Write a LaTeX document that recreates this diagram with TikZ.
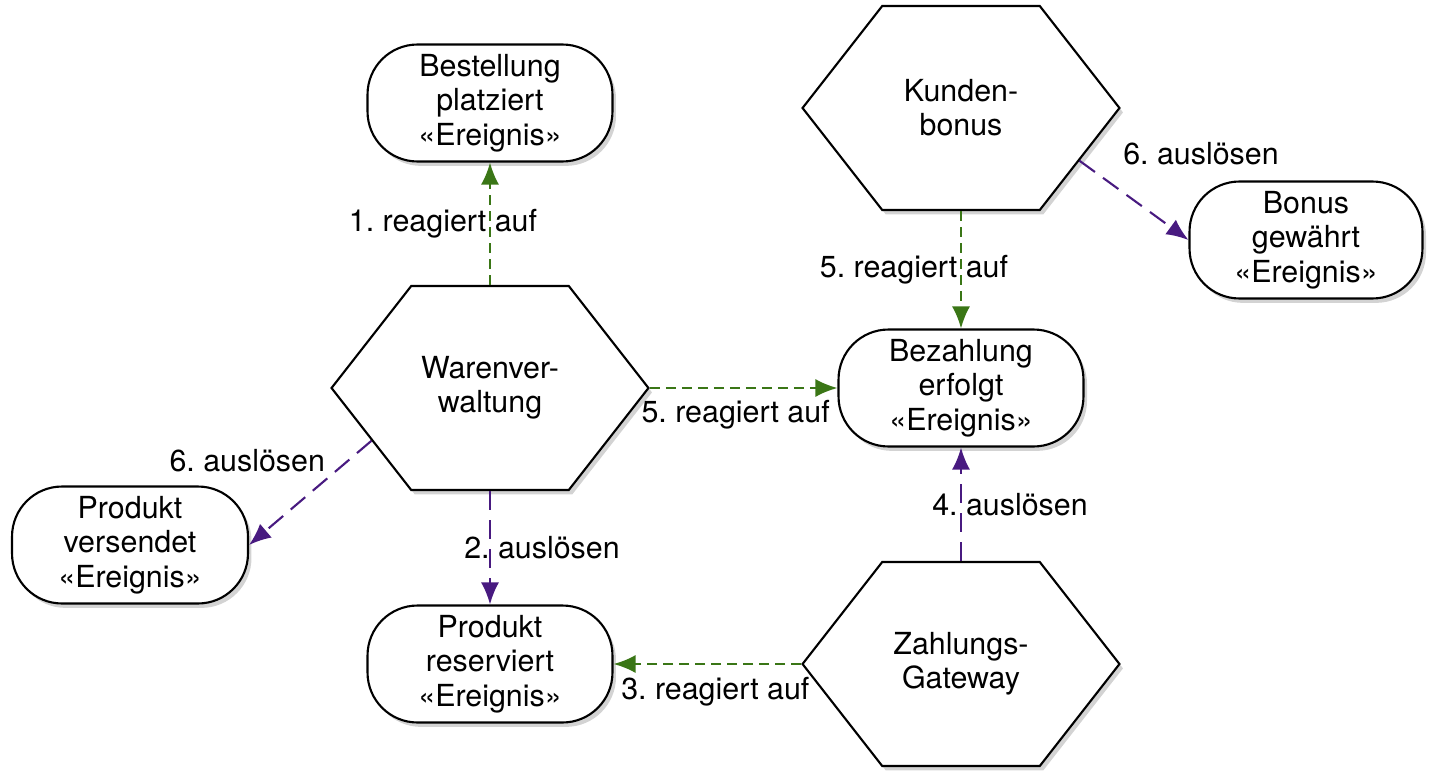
\documentclass[tikz,border=0pt]{standalone}
\usepackage{fontspec}
\setmainfont{TeX Gyre Heros}
\usetikzlibrary{shapes.symbols,shadows,arrows.meta}
\frenchspacing

\definecolor{reactgreen}{RGB}{58,118,22}
\definecolor{firepurple}{RGB}{72,26,128}

\tikzset{
    ereignis/.style = {draw, line width=1.2pt, fill=white, rounded corners=1cm,
        minimum width=4.9cm, minimum height=2.34cm, align=center,
        drop shadow={opacity=0.35, shadow xshift=2pt, shadow yshift=-2.5pt}},
    dienst/.style = {draw, line width=1.2pt, fill=white, signal, signal to=west and east,
        signal pointer angle=104, minimum width=6.34cm, minimum height=4.08cm,
        align=center, inner sep=0pt,
        drop shadow={opacity=0.35, shadow xshift=2pt, shadow yshift=-2.5pt}},
    reagiert/.style = {reactgreen, line width=1.2pt, dash pattern=on 0.2cm off 0.12cm,
        -{Latex[length=0.44cm,width=0.36cm]}},
    ausloesen/.style = {firepurple, line width=1.2pt, dash pattern=on 0.38cm off 0.2cm,
        -{Latex[length=0.44cm,width=0.36cm]}},
    lbl/.style = {text=black, inner sep=1pt}
}

\begin{document}
\begin{tikzpicture}[x=0.02cm, y=-0.02cm, font=\fontsize{17.3}{19.5}\selectfont]
        \useasboundingbox (0,0) rectangle (1447,771);

        % dienste
        \node[dienst] (ware) at (490,388) {Warenver-\\waltung};
        \node[dienst] (kunde) at (961,108) {Kunden-\\bonus};
        \node[dienst] (zahlung) at (961,664) {Zahlungs-\\Gateway};

        % ereignisse
        \node[ereignis] (bestellt) at (490,103) {Bestellung\\platziert\\«Ereignis»};
        \node[ereignis] (bezahlt) at (961,388) {Bezahlung\\erfolgt\\«Ereignis»};
        \node[ereignis] (reserviert) at (490,664) {Produkt\\reserviert\\«Ereignis»};
        \node[ereignis, minimum width=4.72cm] (versendet) at (130,545) {Produkt\\versendet\\«Ereignis»};
        \node[ereignis, minimum width=4.66cm] (bonus) at (1306,240) {Bonus\\gewährt\\«Ereignis»};

        \draw[reagiert] (ware.north) -- (bestellt.south)
                node[lbl, midway, xshift=-0.94cm] {1. reagiert auf}; %1
        \draw[ausloesen] (ware.south) -- (reserviert.north)
                node[lbl, midway, xshift=1.04cm] {2. auslösen}; %2
        \draw[reagiert] (zahlung.west) -- (reserviert.east)
                node[lbl, midway, xshift=0.16cm, yshift=-0.56cm] {3. reagiert auf}; %3
        \draw[ausloesen] (zahlung.north) -- (bezahlt.south)
                node[lbl, midway, xshift=0.98cm] {4. auslösen}; %4
        \draw[reagiert] (ware.east) -- (bezahlt.west)
                node[lbl, midway, xshift=-0.16cm, yshift=-0.54cm] {5. reagiert auf}; %5
        \draw[reagiert] (kunde.south) -- (bezahlt.north)
                node[lbl, midway, xshift=-0.94cm] {5. reagiert auf}; %5
        \draw[ausloesen] (kunde.-24) -- (bonus.west)
                node[lbl, midway, xshift=1.34cm, yshift=0.94cm] {6. auslösen}; %6
        \draw[ausloesen] (ware.-156) -- (versendet.east)
                node[lbl, midway, xshift=-1.26cm, yshift=0.64cm] {6. auslösen}; %6
    \end{tikzpicture}
\end{document}
